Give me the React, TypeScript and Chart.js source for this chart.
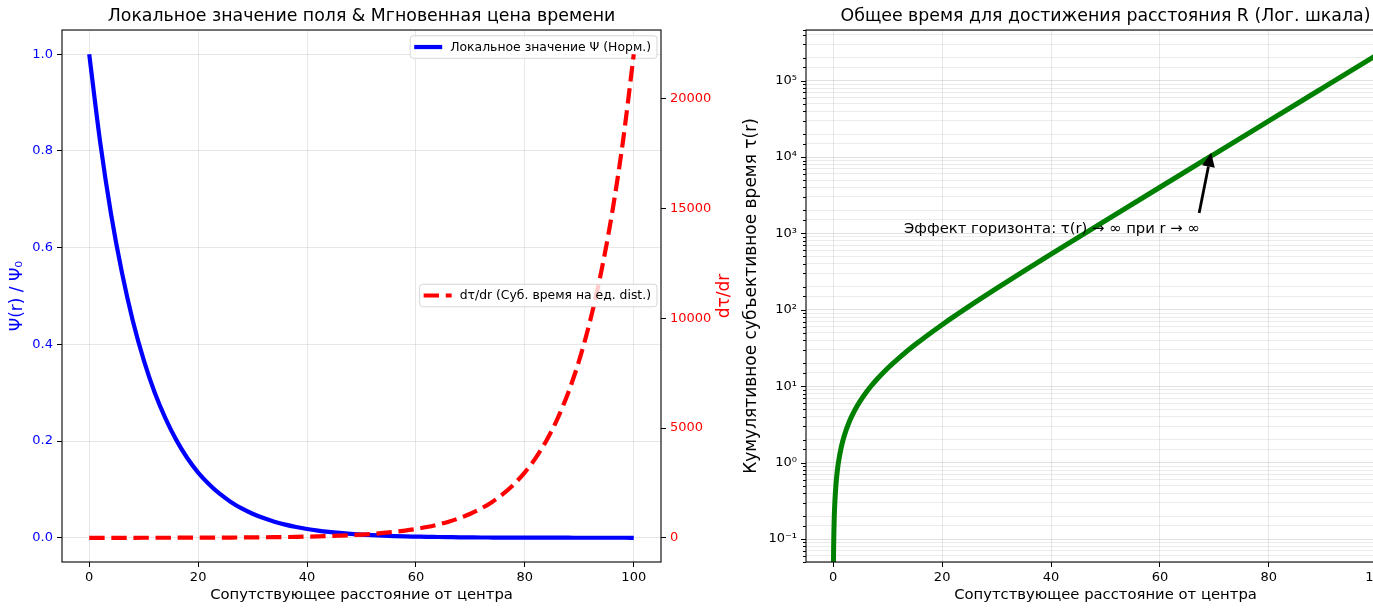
import React, { useEffect, useRef } from "react";
import { Chart, registerables } from "chart.js";

Chart.register(...registerables);

const FONT = "'DejaVu Sans', 'Liberation Sans', sans-serif";

// ---- Left panel data ----
const R_GRID = [
  0, 2, 4, 6, 8, 10, 12, 14, 16, 18, 20, 22, 24, 26, 28, 30, 32, 34, 36, 38, 40,
  42, 44, 46, 48, 50, 52, 54, 56, 58, 60, 62, 64, 66, 68, 70, 72, 74, 76, 78, 80,
  82, 84, 86, 88, 90, 92, 94, 96, 98, 100,
];
const PSI_VALUES = [
  1.0, 0.819, 0.67, 0.549, 0.449, 0.368, 0.301, 0.247, 0.202, 0.165, 0.135,
  0.111, 0.0907, 0.0743, 0.0608, 0.0498, 0.0408, 0.0334, 0.0273, 0.0224, 0.0183,
  0.015, 0.0123, 0.0101, 0.0082, 0.0067, 0.0055, 0.0045, 0.0037, 0.003, 0.0025,
  0.002, 0.0017, 0.0014, 0.0011, 0.0009, 0.0007, 0.0006, 0.0005, 0.0004, 0.0003,
  0.0003, 0.0002, 0.0002, 0.0002, 0.0001, 0.0001, 0.0001, 0.0001, 0.0001, 0.0,
];
const DTAU_VALUES = [
  1, 1.22, 1.49, 1.82, 2.23, 2.72, 3.32, 4.06, 4.95, 6.05, 7.39, 9.03, 11.0,
  13.5, 16.4, 20.1, 24.5, 30.0, 36.6, 44.7, 54.6, 66.7, 81.5, 99.5, 121.5, 148.4,
  181.3, 221.4, 270.4, 330.3, 403.4, 492.7, 601.8, 735.1, 897.8, 1096.6, 1339.4,
  1636.0, 1998.2, 2440.6, 2981.0, 3641.0, 4447.1, 5431.7, 6634.2, 8103.1, 9897.1,
  12088.4, 14764.8, 18033.7, 22026.5,
];
const X_TICKS = [0, 20, 40, 60, 80, 100];
const PSI_TICKS = [0, 0.2, 0.4, 0.6, 0.8, 1.0];
const DTAU_TICKS = [0, 5000, 10000, 15000, 20000];

const PSI_LABEL = "Локальное значение Ψ (Норм.)";
const DTAU_LABEL = "dτ/dr (Суб. время на ед. dist.)";
const LEFT_TITLE = "Локальное значение поля & Мгновенная цена времени";
const X_TITLE = "Сопутствующее расстояние от центра";
const PSI_AXIS_TITLE = "Ψ(r) / Ψ₀";
const DTAU_AXIS_TITLE = "dτ/dr";

// ---- Right panel data ----
const TAU_R = [
  0.01, 0.05, 0.1, 0.2, 0.3, 0.5, 0.75, 1, 1.5, 2, 3, 4, 5, 6, 7, 8, 10, 12, 15,
  20, 25, 30, 35, 40, 45, 50, 60, 70, 80, 90, 100,
];
const TAU_VALUES = [
  0.01, 0.0501, 0.1005, 0.202, 0.3046, 0.5127, 0.779, 1.052, 1.618, 2.214, 3.499,
  4.918, 6.487, 8.221, 10.14, 12.26, 17.18, 23.2, 34.82, 63.89, 111.8, 190.9,
  321.2, 536.0, 890.2, 1474, 4024, 10957, 29800, 81021, 220255,
];
const RIGHT_TITLE = "Общее время для достижения расстояния R (Лог. шкала)";
const TAU_AXIS_TITLE = "Кумулятивное субъективное время τ(r)";
const ANNOTATION_TEXT = "Эффект горизонта: τ(r) → ∞ при r → ∞";
const ANNOTATION_TEXT_POS = [13, 1000];
const ARROW_TAIL = [67.2, 1850];
const ARROW_TIP = [69.4, 11400];

const X_MIN = -5;
const X_MAX = 105;

const GRID = "rgba(176,176,176,0.3)";
const GRID_MAJOR = "rgba(176,176,176,0.38)";
const GRID_MINOR = "rgba(176,176,176,0.25)";

const SUP: Record<string, string> = {
  "-": "⁻", "0": "⁰", "1": "¹", "2": "²", "3": "³", "4": "⁴",
  "5": "⁵", "6": "⁶", "7": "⁷", "8": "⁸", "9": "⁹",
};

function isPow10(v: number | undefined): boolean {
  if (v === undefined || v <= 0) return false;
  const l = Math.log10(v);
  return Math.abs(l - Math.round(l)) < 1e-9;
}
function pow10Label(v: number): string {
  const e = Math.round(Math.log10(v));
  return "10" + String(e).split("").map((c) => SUP[c] || c).join("");
}

const framePlugin = {
  id: "frame",
  afterDatasetsDraw(chart: any) {
    const { ctx, chartArea: a } = chart;
    ctx.save();
    ctx.strokeStyle = "#000";
    ctx.lineWidth = 1.1;
    ctx.strokeRect(a.left, a.top, a.right - a.left, a.bottom - a.top);
    ctx.restore();
  },
};

function drawLegendBox(
  ctx: CanvasRenderingContext2D,
  right: number,
  cy: number,
  text: string,
  color: string,
  dash: number[]
) {
  ctx.save();
  ctx.font = `12.4px ${FONT}`;
  const tw = ctx.measureText(text).width;
  const w = tw + 46;
  const h = 22.5;
  const left = right - w;
  const top = cy - h / 2;
  const r = 3;
  ctx.beginPath();
  ctx.moveTo(left + r, top);
  ctx.lineTo(left + w - r, top);
  ctx.quadraticCurveTo(left + w, top, left + w, top + r);
  ctx.lineTo(left + w, top + h - r);
  ctx.quadraticCurveTo(left + w, top + h, left + w - r, top + h);
  ctx.lineTo(left + r, top + h);
  ctx.quadraticCurveTo(left, top + h, left, top + h - r);
  ctx.lineTo(left, top + r);
  ctx.quadraticCurveTo(left, top, left + r, top);
  ctx.closePath();
  ctx.fillStyle = "rgba(255,255,255,0.8)";
  ctx.fill();
  ctx.strokeStyle = "rgba(204,204,204,0.8)";
  ctx.lineWidth = 1;
  ctx.stroke();
  ctx.beginPath();
  ctx.setLineDash(dash);
  ctx.strokeStyle = color;
  ctx.lineWidth = 4.2;
  ctx.moveTo(left + 4, cy);
  ctx.lineTo(left + 32, cy);
  ctx.stroke();
  ctx.setLineDash([]);
  ctx.fillStyle = "#000";
  ctx.textAlign = "left";
  ctx.textBaseline = "middle";
  ctx.fillText(text, left + 40, cy + 0.5);
  ctx.restore();
}

const leftExtrasPlugin = {
  id: "leftExtras",
  beforeDatasetDraw(chart: any, args: any) {
    if (args.index === 1) {
      const a = chart.chartArea;
      drawLegendBox(chart.ctx, a.right - 4, a.top + 17, PSI_LABEL, "#0000ff", []);
    }
  },
  afterDatasetsDraw(chart: any) {
    const { ctx, chartArea: a } = chart;
    drawLegendBox(ctx, a.right - 4, (a.top + a.bottom) / 2 - 0.5, DTAU_LABEL, "#ff0000", [15.4, 6.7]);
    ctx.save();
    ctx.translate(a.right + 64, (a.top + a.bottom) / 2);
    ctx.rotate(-Math.PI / 2);
    ctx.font = `17px ${FONT}`;
    ctx.fillStyle = "#ff0000";
    ctx.textAlign = "center";
    ctx.textBaseline = "middle";
    ctx.fillText(DTAU_AXIS_TITLE, 0, 0);
    ctx.restore();
  },
};

const rightExtrasPlugin = {
  id: "rightExtras",
  afterDatasetsDraw(chart: any) {
    const { ctx, chartArea: a } = chart;
    const xs = chart.scales.x;
    const ys = chart.scales.y;
    ctx.save();
    ctx.strokeStyle = "#000";
    ctx.lineWidth = 1;
    for (const t of ys.ticks) {
      const y = ys.getPixelForValue(t.value);
      if (y < a.top - 0.5 || y > a.bottom + 0.5) continue;
      const len = isPow10(t.value) ? 5 : 3;
      ctx.beginPath();
      ctx.moveTo(a.left - len, Math.round(y) + 0.5);
      ctx.lineTo(a.left, Math.round(y) + 0.5);
      ctx.stroke();
    }
    ctx.restore();
    ctx.save();
    ctx.font = `14.8px ${FONT}`;
    ctx.fillStyle = "#000";
    ctx.textAlign = "left";
    ctx.textBaseline = "alphabetic";
    ctx.fillText(
      ANNOTATION_TEXT,
      xs.getPixelForValue(ANNOTATION_TEXT_POS[0]),
      ys.getPixelForValue(ANNOTATION_TEXT_POS[1])
    );
    const tx = xs.getPixelForValue(ARROW_TAIL[0]);
    const ty = ys.getPixelForValue(ARROW_TAIL[1]);
    const hx = xs.getPixelForValue(ARROW_TIP[0]);
    const hy = ys.getPixelForValue(ARROW_TIP[1]);
    const ang = Math.atan2(hy - ty, hx - tx);
    const headLen = 14;
    const headW = 6.5;
    const bx = hx - headLen * Math.cos(ang);
    const by = hy - headLen * Math.sin(ang);
    ctx.strokeStyle = "#000";
    ctx.lineWidth = 2.8;
    ctx.beginPath();
    ctx.moveTo(tx, ty);
    ctx.lineTo(bx, by);
    ctx.stroke();
    ctx.beginPath();
    ctx.moveTo(hx, hy);
    ctx.lineTo(bx + headW * Math.sin(ang), by - headW * Math.cos(ang));
    ctx.lineTo(bx - headW * Math.sin(ang), by + headW * Math.cos(ang));
    ctx.closePath();
    ctx.fillStyle = "#000";
    ctx.fill();
    ctx.restore();
  },
};

function fixedTicks(values: number[]) {
  return (s: any) => {
    s.ticks = values.map((v) => ({ value: v }));
  };
}

function xScale() {
  return {
    type: "linear",
    min: X_MIN,
    max: X_MAX,
    afterBuildTicks: fixedTicks(X_TICKS),
    ticks: {
      color: "#000",
      font: { size: 13, family: FONT },
      padding: 3,
      maxRotation: 0,
      autoSkip: false,
      callback: (v: any) => String(Math.round(Number(v))),
    },
    grid: { color: GRID, lineWidth: 1, tickColor: "#000", tickLength: 5 },
    border: { display: false },
    title: {
      display: true,
      text: X_TITLE,
      color: "#000",
      font: { size: 14.8, family: FONT },
      padding: { top: 4, bottom: 4 },
    },
    afterFit(s: any) {
      s.height = 46;
    },
  };
}

export default function App() {
  const leftRef = useRef<HTMLCanvasElement>(null);
  const rightRef = useRef<HTMLCanvasElement>(null);

  useEffect(() => {
    Chart.defaults.font.family = FONT;
    const left = new Chart(leftRef.current as HTMLCanvasElement, {
      type: "line",
      data: {
        datasets: [
          {
            label: PSI_LABEL,
            data: R_GRID.map((r, i) => ({ x: r, y: PSI_VALUES[i] })),
            borderColor: "#0000ff",
            borderWidth: 4.2,
            pointRadius: 0,
            cubicInterpolationMode: "monotone",
            yAxisID: "y",
            order: 2,
            clip: 0,
          },
          {
            label: DTAU_LABEL,
            data: R_GRID.map((r, i) => ({ x: r, y: DTAU_VALUES[i] })),
            borderColor: "#ff0000",
            borderWidth: 4.2,
            borderDash: [15.4, 6.7],
            pointRadius: 0,
            cubicInterpolationMode: "monotone",
            yAxisID: "y2",
            order: 1,
            clip: 0,
          },
        ],
      },
      options: {
        animation: false,
        responsive: false,
        events: [],
        layout: { padding: 0 },
        plugins: {
          legend: { display: false },
          tooltip: { enabled: false },
          title: {
            display: true,
            text: LEFT_TITLE,
            fullSize: false,
            color: "#000",
            font: { size: 17.35, weight: "normal", family: FONT },
            padding: { top: 6, bottom: 3.2 },
          },
        },
        scales: {
          x: xScale() as any,
          y: {
            type: "linear",
            position: "left",
            min: -0.05,
            max: 1.05,
            afterBuildTicks: fixedTicks(PSI_TICKS),
            ticks: {
              autoSkip: false,
              color: "#0000ff",
              font: { size: 13, family: FONT },
              padding: 4,
              callback: (v: any) => Number(v).toFixed(1),
            },
            grid: { color: GRID, lineWidth: 1, tickColor: "#000", tickLength: 5 },
            border: { display: false },
            title: {
              display: true,
              text: PSI_AXIS_TITLE,
              color: "#0000ff",
              font: { size: 17, family: FONT },
              padding: { top: 7.8, bottom: 0 },
            },
            afterFit(s: any) {
              s.width = 62;
            },
          },
          y2: {
            type: "linear",
            position: "right",
            min: -1101,
            max: 23127,
            afterBuildTicks: fixedTicks(DTAU_TICKS),
            ticks: {
              autoSkip: false,
              color: "#ff0000",
              font: { size: 13, family: FONT },
              padding: 4,
              callback: (v: any) => String(Math.round(Number(v))),
            },
            grid: { drawOnChartArea: false, tickColor: "#000", tickLength: 5 },
            border: { display: false },
            afterFit(s: any) {
              s.width = 79;
            },
          },
        },
      } as any,
      plugins: [leftExtrasPlugin, framePlugin],
    });

    const right = new Chart(rightRef.current as HTMLCanvasElement, {
      type: "line",
      data: {
        datasets: [
          {
            label: "τ(r)",
            data: TAU_R.map((r, i) => ({ x: r, y: TAU_VALUES[i] })),
            borderColor: "#008000",
            borderWidth: 5,
            pointRadius: 0,
            cubicInterpolationMode: "monotone",
            clip: 0,
          },
        ],
      },
      options: {
        animation: false,
        responsive: false,
        events: [],
        layout: { padding: 0 },
        plugins: {
          legend: { display: false },
          tooltip: { enabled: false },
          title: {
            display: true,
            text: RIGHT_TITLE,
            fullSize: false,
            color: "#000",
            font: { size: 17.35, weight: "normal", family: FONT },
            padding: { top: 6, bottom: 3.2 },
          },
        },
        scales: {
          x: xScale() as any,
          y: {
            type: "logarithmic",
            min: 0.05,
            max: 4.6e5,
            ticks: {
              autoSkip: false,
              color: "#000",
              font: { size: 13, family: FONT },
              padding: 9,
              callback: (v: any) => (isPow10(Number(v)) ? pow10Label(Number(v)) : ""),
            },
            grid: {
              drawTicks: false,
              lineWidth: 1,
              color: (c: any) => (isPow10(c.tick && c.tick.value) ? GRID_MAJOR : GRID_MINOR),
            },
            border: { display: false },
            title: {
              display: true,
              text: TAU_AXIS_TITLE,
              color: "#000",
              font: { size: 17, family: FONT },
              padding: { top: 1.8, bottom: 0 },
            },
            afterFit(s: any) {
              s.width = 66;
            },
          },
        },
      } as any,
      plugins: [rightExtrasPlugin, framePlugin],
    });

    return () => {
      left.destroy();
      right.destroy();
    };
  }, []);

  return (
    <div
      style={{
        position: "fixed",
        left: 0,
        top: 0,
        width: 1373,
        height: 608,
        overflow: "hidden",
        background: "#fff",
      }}
    >
      <div style={{ position: "absolute", left: 0, top: 0, width: 740, height: 608 }}>
        <canvas ref={leftRef} width={740} height={608} style={{ width: 740, height: 608, display: "block" }} />
      </div>
      <div style={{ position: "absolute", left: 740, top: 0, width: 665, height: 608 }}>
        <canvas ref={rightRef} width={665} height={608} style={{ width: 665, height: 608, display: "block" }} />
      </div>
    </div>
  );
}
